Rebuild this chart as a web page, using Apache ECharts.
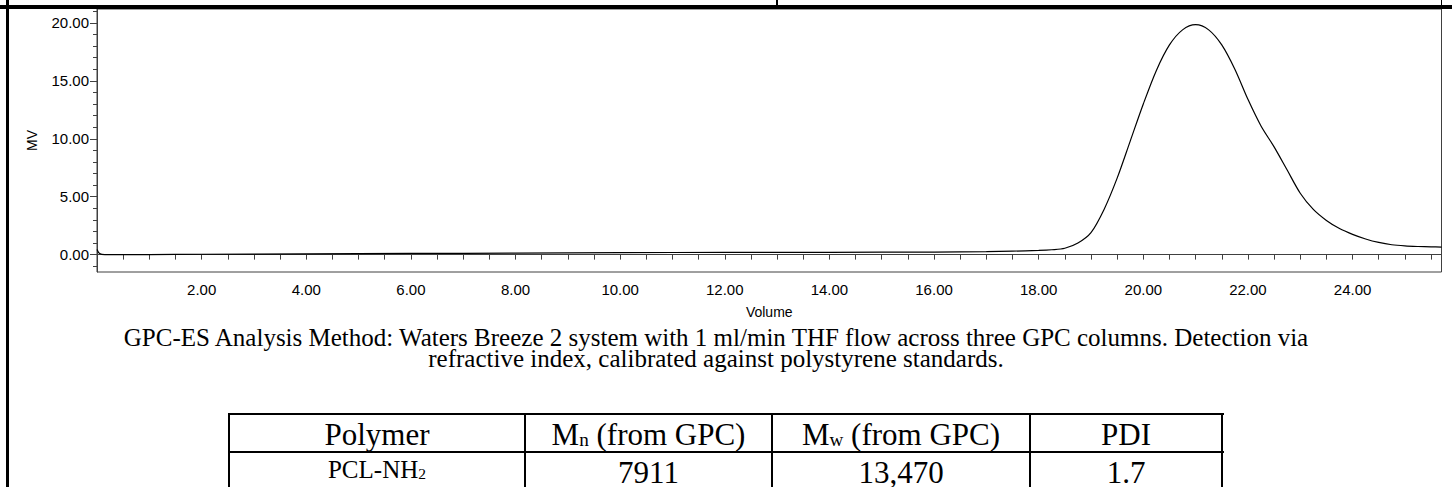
<!DOCTYPE html>
<html>
<head>
<meta charset="utf-8">
<script src="https://cdn.jsdelivr.net/npm/echarts@6/dist/echarts.min.js"></script>
<style>
	body{margin:0;width:1452px;height:487px;overflow:hidden;background:#fff;position:relative;}
	#chart{position:absolute;left:0;top:0;width:1452px;height:487px;}
	.ln{position:absolute;background:#000;}
	.cap{position:absolute;left:0;width:1432px;text-align:center;white-space:nowrap;
		font-family:"Liberation Serif","Times New Roman",serif;font-size:25px;line-height:21px;color:#000;}
	.cell{position:absolute;text-align:center;white-space:nowrap;
		font-family:"Liberation Serif","Times New Roman",serif;color:#000;}
	.big{font-size:31px;line-height:26px;}
	.small{font-size:25px;line-height:22px;}
	.sb{font-size:0.62em;vertical-align:-0.06em;}
</style>
</head>
<body>
<div id="chart"></div>

<!-- frame of the page -->
<div class="ln" style="left:0;top:4.5px;width:1452px;height:4px"></div>
<div class="ln" style="left:6px;top:0;width:3px;height:487px"></div>
<div class="ln" style="left:776px;top:0;width:2px;height:5px"></div>
<div class="ln" style="left:1441px;top:0;width:1px;height:5px"></div>

<div class="cap" style="top:326.8px">GPC-ES Analysis Method: Waters Breeze 2 system with 1 ml/min THF flow across three GPC columns. Detection via</div>
<div class="cap" style="top:348.4px">refractive index, calibrated against polystyrene standards.</div>

<div id="tbl"></div>

<script>
// chromatogram
var volume = [0, 0.05, 0.15, 1, 2, 4, 6, 8, 10, 12, 14, 16, 17, 17.5, 18, 18.25, 18.5, 18.75,
	19, 19.25, 19.5, 19.75, 20, 20.25, 20.5, 20.75, 21, 21.25, 21.5, 21.75, 22, 22.25, 22.5,
	22.75, 23, 23.25, 23.5, 23.75, 24, 24.25, 24.5, 24.75, 25, 25.25, 25.5, 25.7];
var signal = [0.45, 0.1, 0.0, 0.0, 0.03, 0.06, 0.1, 0.13, 0.17, 0.19, 0.2, 0.22, 0.26, 0.3, 0.36, 0.42, 0.55, 1.0,
	1.9, 3.9, 6.6, 9.8, 13.0, 15.9, 18.1, 19.4, 19.85, 19.4, 18.1, 16.0, 13.4, 11.1, 9.3,
	7.3, 5.3, 3.9, 2.95, 2.25, 1.75, 1.35, 1.05, 0.85, 0.75, 0.7, 0.67, 0.65];

var xLabels = [2, 4, 6, 8, 10, 12, 14, 16, 18, 20, 22, 24];
var xTicks = [];
for (var t = 0.5; t <= 25.5; t += 0.5) xTicks.push(t);
var yLabels = [0, 5, 10, 15, 20];
var yTicks = [];
for (var k = -1; k <= 21; k++) yTicks.push(k);

// table
var colEdges = [229, 525, 772, 1030, 1222];
var headers = ['Polymer', 'M<span class="sb">n</span> (from GPC)', 'M<span class="sb">w</span> (from GPC)', 'PDI'];
var row1 = ['PCL-NH<span class="sb">2</span>', '7911', '13,470', '1.7'];

var tbl = document.getElementById('tbl');
function addLine(l, t, w, h){
	var d = document.createElement('div');
	d.className = 'ln';
	d.style.cssText = 'left:'+l+'px;top:'+t+'px;width:'+w+'px;height:'+h+'px';
	tbl.appendChild(d);
}
function addCell(i, html, cls, top){
	var d = document.createElement('div');
	d.className = 'cell ' + cls;
	d.style.left = colEdges[i] + 'px';
	d.style.width = (colEdges[i+1] - colEdges[i]) + 'px';
	d.style.top = top + 'px';
	d.innerHTML = html;
	tbl.appendChild(d);
}
addLine(228, 412.5, 996, 2);
addLine(228, 450.7, 996, 2);
for (var c = 0; c < colEdges.length; c++) addLine(colEdges[c] - 1, 412.5, 2, 80);
for (var c = 0; c < 4; c++){
	addCell(c, headers[c], 'big', 421.5);
	if (c == 0) addCell(c, row1[c], 'small', 458.5);
	else addCell(c, row1[c], 'big', 459.9);
}

var font = '"Liberation Sans", Arial, sans-serif';
var axisColor = '#404040';
var chart = echarts.init(document.getElementById('chart'), null, {renderer: 'svg'});
var option = {
	animation: false,
	grid: {left: 97, right: 10.5, top: 9, bottom: 215, show: true, borderColor: axisColor, borderWidth: 1},
	xAxis: {
		type: 'value', min: 0, max: 25.7,
		name: 'Volume', nameLocation: 'middle', nameGap: 33,
		nameTextStyle: {fontFamily: font, fontSize: 14, color: '#000'},
		axisLine: {lineStyle: {color: axisColor}},
		axisTick: {show: true, length: 5, customValues: xTicks, lineStyle: {color: axisColor}},
		axisLabel: {customValues: xLabels, margin: 10, fontFamily: font, fontSize: 15, color: '#000',
			formatter: function(v){ return v.toFixed(2); }},
		splitLine: {show: false}
	},
	yAxis: [{
		type: 'value', min: -1.5, max: 21.2, position: 'left',
		name: 'MV', nameLocation: 'middle', nameGap: 58, nameRotate: 90,
		nameTextStyle: {fontFamily: font, fontSize: 14, color: '#000'},
		axisLine: {show: true, lineStyle: {color: axisColor}},
		axisTick: {show: true, length: 7, customValues: yLabels, lineStyle: {color: axisColor}},
		axisLabel: {customValues: yLabels, margin: 8, fontFamily: font, fontSize: 15, color: '#000',
			formatter: function(v){ return v.toFixed(2); }},
		splitLine: {show: false}
	}, {
		type: 'value', min: -1.5, max: 21.2, position: 'left',
		axisLine: {show: false},
		axisTick: {show: true, length: 4, customValues: yTicks, lineStyle: {color: axisColor}},
		axisLabel: {show: false},
		splitLine: {show: false}
	}],
	series: [{
		type: 'line',
		yAxisIndex: 0,
		data: volume.map(function(v, i){ return [v, signal[i]]; }),
		showSymbol: false,
		smooth: 0.3,
		lineStyle: {color: '#000', width: 1.2}
	}]
};
chart.setOption(option);
</script>
</body>
</html>
